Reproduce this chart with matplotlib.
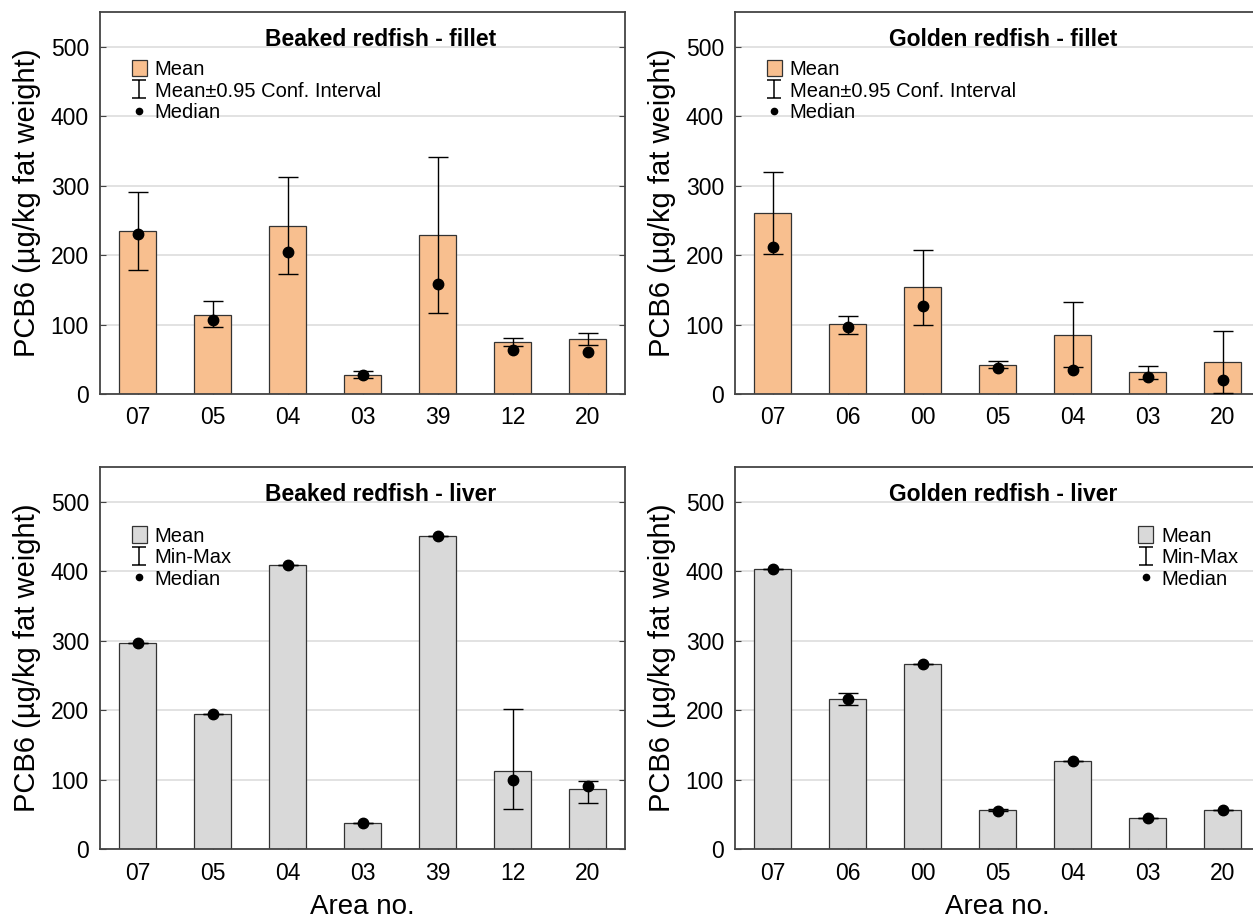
import matplotlib
matplotlib.use("Agg")
import matplotlib.pyplot as plt
from matplotlib.patches import Patch
from matplotlib.lines import Line2D
from matplotlib.path import Path
import numpy as np

plt.rcParams['font.family'] = ['Liberation Sans', 'DejaVu Sans']

# --- data ---
beaked_areas = ["07", "05", "04", "03", "39", "12", "20"]
golden_areas = ["07", "06", "00", "05", "04", "03", "20"]

# Beaked redfish - fillet (mean, CI low, CI high, median)
bf_mean = [235, 114, 242, 28, 229, 75, 79]
bf_lo = [178, 96, 173, 23, 117, 69, 71]
bf_hi = [291, 134, 312, 33, 341, 81, 88]
bf_med = [231, 107, 205, 27, 159, 63, 61]

# Golden redfish - fillet
gf_mean = [261, 101, 154, 42, 85, 31, 46]
gf_lo = [202, 87, 100, 37, 39, 21, 1]
gf_hi = [320, 113, 208, 48, 133, 41, 90]
gf_med = [212, 96, 127, 37, 34, 25, 20]

# Beaked redfish - liver (mean, min, max, median)
bl_mean = [297, 195, 409, 38, 451, 112, 86]
bl_lo = [297, 195, 409, 38, 451, 58, 66]
bl_hi = [297, 195, 409, 38, 451, 201, 98]
bl_med = [297, 195, 409, 38, 451, 100, 91]

# Golden redfish - liver
gl_mean = [403, 216, 267, 56, 126, 45, 56]
gl_lo = [403, 208, 267, 54, 126, 45, 56]
gl_hi = [403, 225, 267, 57, 126, 45, 56]
gl_med = [403, 216, 267, 55, 126, 45, 56]

orange = "#F8BF8F"
grey = "#D9D9D9"
edge = "#333333"

ibeam = Path([(-0.85, -1), (0.85, -1), (0, -1), (0, 1), (-0.85, 1), (0.85, 1)],
             [Path.MOVETO, Path.LINETO, Path.MOVETO, Path.LINETO, Path.MOVETO, Path.LINETO])

fig = plt.figure(figsize=(12.53, 9.24), dpi=100)
W, H = 1253.0, 924.0


def panel(left_px, top_px, areas, mean, lo, hi, med, color, title, err_label,
          leg_anchor, xlabel=False, title_x=0.5):
    ax = fig.add_axes([left_px / W, 1 - (top_px + 382) / H, 525 / W, 382 / H])
    x = np.arange(len(areas))
    mean = np.array(mean)
    ax.bar(x, mean, width=0.5, color=color, edgecolor=edge, linewidth=0.9, zorder=2)
    ax.errorbar(x, mean, yerr=[mean - np.array(lo), np.array(hi) - mean], fmt='none',
                ecolor='black', elinewidth=1, capsize=7, capthick=1, zorder=3)
    ax.plot(x, med, 'o', color='black', ms=7.5, zorder=4)
    ax.set_xlim(-0.5, 6.5)
    ax.set_ylim(0, 550)
    ax.set_yticks(range(0, 501, 100))
    ax.set_xticks(x)
    ax.set_xticklabels(areas)
    ax.yaxis.grid(True, color="#DDDDDD", linewidth=1.2, zorder=0)
    ax.set_axisbelow(True)
    ax.tick_params(axis='y', direction='in', left=True, right=True, length=4,
                   labelsize=16.5, pad=8, color="#444444")
    ax.tick_params(axis='x', direction='in', length=4, labelsize=16.5, pad=9,
                   color="#444444")
    for s in ax.spines.values():
        s.set_color("#444444")
        s.set_linewidth(1.3)
    ax.set_ylabel("PCB6 (µg/kg fat weight)", fontsize=21, labelpad=7)
    if xlabel:
        ax.set_xlabel("Area no.", fontsize=20, labelpad=7)
    ax.text(title_x, 0.927, title, transform=ax.transAxes, ha='center', va='center',
            fontsize=16.5, fontweight='bold')
    handles = [Patch(facecolor=color, edgecolor=edge, linewidth=0.9),
               Line2D([], [], marker=ibeam, linestyle='none', color='black',
                      markersize=12.5, markeredgewidth=1.1, fillstyle='none'),
               Line2D([], [], marker='o', linestyle='none', color='black', markersize=4.5)]
    ax.legend(handles, ["Mean", err_label, "Median"], loc='upper left',
              bbox_to_anchor=leg_anchor, frameon=False, fontsize=14.5,
              handlelength=0.75, handleheight=0.9, handletextpad=0.4,
              labelspacing=0.12, borderpad=0, borderaxespad=0)
    return ax


panel(100, 12, beaked_areas, bf_mean, bf_lo, bf_hi, bf_med, orange,
      "Beaked redfish - fillet", "Mean±0.95 Conf. Interval", (0.06, 0.875), title_x=0.535)
panel(735, 12, golden_areas, gf_mean, gf_lo, gf_hi, gf_med, orange,
      "Golden redfish - fillet", "Mean±0.95 Conf. Interval", (0.06, 0.875), title_x=0.51)
panel(100, 467, beaked_areas, bl_mean, bl_lo, bl_hi, bl_med, grey,
      "Beaked redfish - liver", "Min-Max", (0.06, 0.845), xlabel=True, title_x=0.535)
panel(735, 467, golden_areas, gl_mean, gl_lo, gl_hi, gl_med, grey,
      "Golden redfish - liver", "Min-Max", (0.768, 0.845), xlabel=True, title_x=0.51)

fig.savefig("out.png", dpi=100)
